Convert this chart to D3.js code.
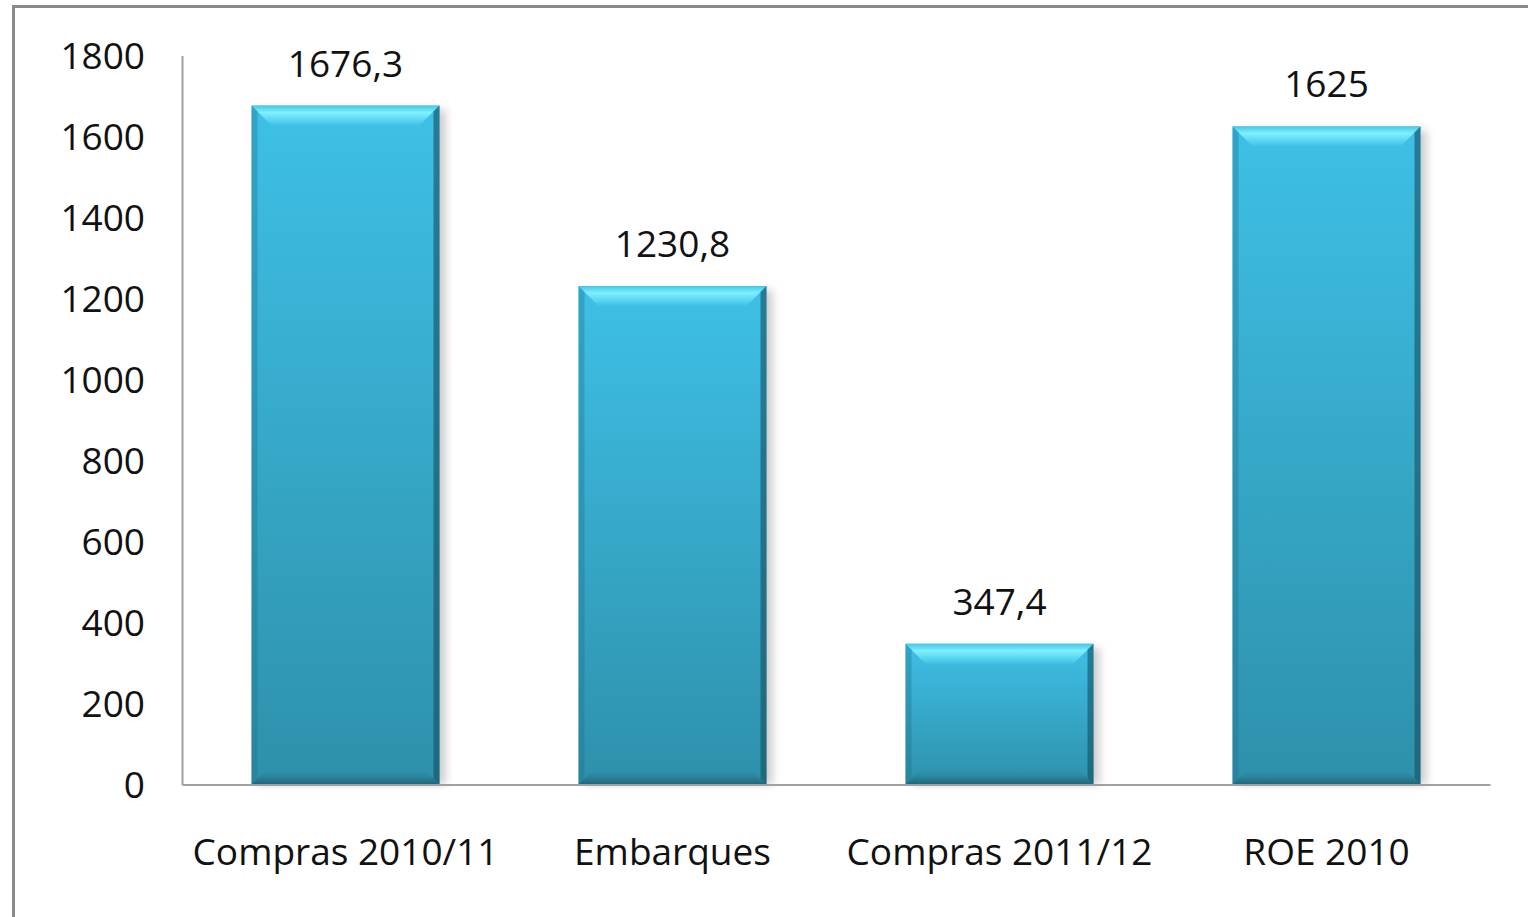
<!DOCTYPE html>
<html>
<head>
<meta charset="utf-8">
<script src="https://cdn.jsdelivr.net/npm/d3@7"></script>
<style>
  body { margin: 0; background: #fff; }
  text { font-family: "Open Sans", sans-serif; fill: #111; }
</style>
</head>
<body>
<div id="chart"></div>
<script>
var categories = ["Compras 2010/11", "Embarques", "Compras 2011/12", "ROE 2010"];
var values = [1676.3, 1230.8, 347.4, 1625];
var valueLabels = ["1676,3", "1230,8", "347,4", "1625"];
var yTicks = [0, 200, 400, 600, 800, 1000, 1200, 1400, 1600, 1800];

var widthT = 1528, heightT = 917;
var margin = {top: 55.5, right: 38, bottom: 132.5, left: 182},
    width = widthT - margin.left - margin.right,
    height = heightT - margin.top - margin.bottom;

var svg = d3.select("#chart").append("svg")
    .attr("width", widthT)
    .attr("height", heightT);

var defs = svg.append("defs");

var face = defs.append("linearGradient").attr("id", "face")
    .attr("x1", 0).attr("y1", 0).attr("x2", 0).attr("y2", 1);
face.append("stop").attr("offset", "0%").attr("stop-color", "#3ec0e6");
face.append("stop").attr("offset", "100%").attr("stop-color", "#2e90ab");

var topBev = defs.append("linearGradient").attr("id", "topbev")
    .attr("x1", 0).attr("y1", 0).attr("x2", 0).attr("y2", 1);
topBev.append("stop").attr("offset", "0%").attr("stop-color", "#45c6e8");
topBev.append("stop").attr("offset", "35%").attr("stop-color", "#7ff0ff");
topBev.append("stop").attr("offset", "100%").attr("stop-color", "#40c0e4");

var botBev = defs.append("linearGradient").attr("id", "botbev")
    .attr("x1", 0).attr("y1", 0).attr("x2", 0).attr("y2", 1);
botBev.append("stop").attr("offset", "0%").attr("stop-color", "#2d8ca7").attr("stop-opacity", 0);
botBev.append("stop").attr("offset", "100%").attr("stop-color", "#1c5f72").attr("stop-opacity", 0.9);

var shadow = defs.append("filter").attr("id", "shadow")
    .attr("x", "-10%").attr("y", "-10%").attr("width", "130%").attr("height", "130%");
shadow.append("feGaussianBlur").attr("stdDeviation", 4);

// outer frame (cut off at right and bottom like the picture)
svg.append("rect")
    .attr("x", 13.5).attr("y", 6.5)
    .attr("width", widthT + 20).attr("height", heightT + 20)
    .attr("fill", "none").attr("stroke", "#8a8a8a").attr("stroke-width", 3);

var g = svg.append("g")
    .attr("transform", "translate(" + margin.left + "," + margin.top + ")");

var x = d3.scaleBand().domain(categories).range([0, width])
    .paddingInner(0.425).paddingOuter(0.2125);
var y = d3.scaleLinear().domain([0, 1800]).range([height, 0]);

// y axis
var yAxis = d3.axisLeft(y).tickValues(yTicks).tickFormat(d3.format("d"))
    .tickSize(0).tickPadding(37);
var ya = g.append("g").call(yAxis);
ya.select(".domain").attr("stroke", "#a0a0a0").attr("stroke-width", 2);
ya.selectAll("text").style("font-size", "37px").attr("fill", "#111").attr("dy", "0.35em");

// bars
var bars = g.selectAll(".bar").data(values).enter().append("g").attr("class", "bar");

bars.append("rect")
    .attr("x", function(d, i) { return x(categories[i]) + 6; })
    .attr("y", function(d) { return y(d) + 4; })
    .attr("width", x.bandwidth())
    .attr("height", function(d) { return height - y(d) - 4; })
    .attr("fill", "rgba(0,0,0,0.2)")
    .attr("filter", "url(#shadow)");

bars.append("rect")
    .attr("x", function(d, i) { return x(categories[i]); })
    .attr("y", function(d) { return y(d); })
    .attr("width", x.bandwidth())
    .attr("height", function(d) { return height - y(d); })
    .attr("fill", "url(#face)");

function bevel(d, i) {
  var x0 = x(categories[i]), x1 = x0 + x.bandwidth(), y0 = y(d), y1 = height;
  return {x0: x0, x1: x1, y0: y0, y1: y1};
}
var bt = 20, bs = 6, bb = 16;

// top bevel
bars.append("path")
    .attr("d", function(d, i) {
      var b = bevel(d, i);
      return "M" + b.x0 + "," + b.y0 + "L" + b.x1 + "," + b.y0 +
        "L" + (b.x1 - bt) + "," + (b.y0 + bt) + "L" + (b.x0 + bt) + "," + (b.y0 + bt) + "Z";
    })
    .attr("fill", "url(#topbev)");

// left bevel
bars.append("path")
    .attr("d", function(d, i) {
      var b = bevel(d, i);
      return "M" + b.x0 + "," + b.y0 + "L" + (b.x0 + bs) + "," + (b.y0 + bs) +
        "L" + (b.x0 + bs) + "," + (b.y1 - bs) + "L" + b.x0 + "," + b.y1 + "Z";
    })
    .attr("fill", "#1d6f86").attr("opacity", 0.35);

// right bevel
bars.append("path")
    .attr("d", function(d, i) {
      var b = bevel(d, i);
      return "M" + b.x1 + "," + b.y0 + "L" + (b.x1 - bs) + "," + (b.y0 + bs) +
        "L" + (b.x1 - bs) + "," + (b.y1 - bs) + "L" + b.x1 + "," + b.y1 + "Z";
    })
    .attr("fill", "#154f60").attr("opacity", 0.6);

// bottom bevel
bars.append("path")
    .attr("d", function(d, i) {
      var b = bevel(d, i);
      return "M" + b.x0 + "," + b.y1 + "L" + b.x1 + "," + b.y1 +
        "L" + (b.x1 - bb) + "," + (b.y1 - bb) + "L" + (b.x0 + bb) + "," + (b.y1 - bb) + "Z";
    })
    .attr("fill", "url(#botbev)");

// value labels
bars.append("text")
    .attr("x", function(d, i) { return x(categories[i]) + x.bandwidth() / 2; })
    .attr("y", function(d) { return y(d) - 42; })
    .attr("dy", "0.35em")
    .attr("text-anchor", "middle")
    .style("font-size", "37px")
    .text(function(d, i) { return valueLabels[i]; });

// x axis
var xAxis = d3.axisBottom(x).tickSize(0).tickPadding(54);
var xa = g.append("g").attr("transform", "translate(0," + height + ")").call(xAxis);
xa.select(".domain").attr("stroke", "#a0a0a0").attr("stroke-width", 2);
xa.selectAll("text").style("font-size", "37px").attr("fill", "#111").attr("dy", "0.71em");
</script>
</body>
</html>
